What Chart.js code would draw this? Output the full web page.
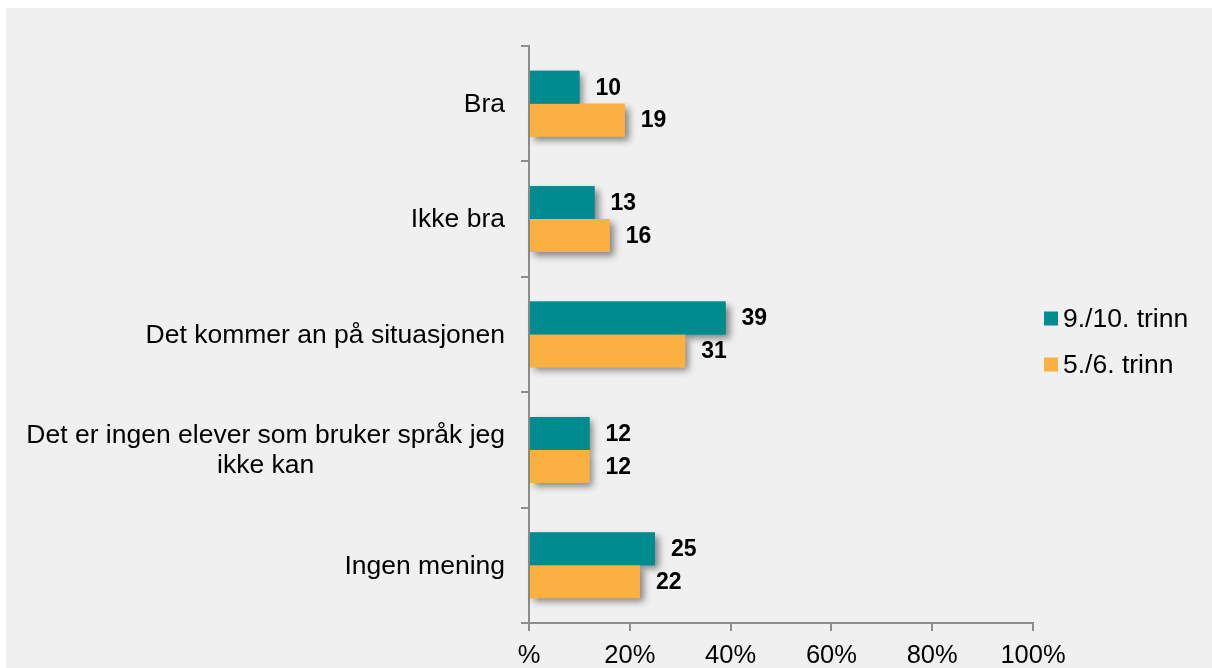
<!DOCTYPE html>
<html>
<head>
    <meta charset="utf-8">
    <title>Språk</title>
    <script src="https://cdn.jsdelivr.net/npm/chart.js@4.4.3/dist/chart.umd.min.js"></script>
    <style>
        html, body {
            margin: 0;
            padding: 0;
            background: #ffffff;
            overflow: hidden;
        }

        .panel {
            position: absolute;
            left: 6px;
            top: 8px;
            width: 1206px;
            height: 660px;
            background: #f0f0f0;
        }

        .wrap {
            position: absolute;
            left: 0;
            top: 0;
            width: 1212px;
            height: 668px;
        }
    </style>
</head>

<body>
    <div class="panel"></div>
    <div class="wrap">
        <canvas id="chart" width="1212" height="668"></canvas>
    </div>

    <script>
        const categories = [
            'Bra',
            'Ikke bra',
            'Det kommer an på situasjonen',
            ['Det er ingen elever som bruker språk jeg', 'ikke kan'],
            'Ingen mening'
        ]
        const seriesNames = ['9./10. trinn', '5./6. trinn']
        const trinn910 = [10, 13, 39, 12, 25]
        const trinn56 = [19, 16, 31, 12, 22]
        const xTicks = [0, 20, 40, 60, 80, 100]
        const xTickLabels = ['%', '20%', '40%', '60%', '80%', '100%']

        const teal = '#008b8f'
        const orange = '#fbb042'
        const axisGray = '#8d8d8d'
        const font = 'Arial, "Liberation Sans", sans-serif'

        // soft drop shadow under every bar, drawn before the bars themselves
        const shadowPlugin = {
            id: 'barShadow',
            beforeDatasetsDraw(chart) {
                const ctx = chart.ctx
                ctx.save()
                ctx.shadowColor = 'rgba(0,0,0,0.45)'
                ctx.shadowBlur = 7
                ctx.shadowOffsetX = 4
                ctx.shadowOffsetY = 4
                chart.data.datasets.forEach((ds, i) => {
                    chart.getDatasetMeta(i).data.forEach(bar => {
                        const left = Math.min(bar.base, bar.x)
                        ctx.fillStyle = ds.backgroundColor
                        ctx.fillRect(left, bar.y - bar.height / 2, Math.abs(bar.x - bar.base), bar.height)
                    })
                })
                ctx.restore()
            }
        }

        // values at bar ends, category labels (excel style wrapping) and legend
        const labelPlugin = {
            id: 'labels',
            afterDraw(chart) {
                const ctx = chart.ctx
                const area = chart.chartArea
                const yScale = chart.scales.y
                ctx.save()

                ctx.font = 'bold 23px ' + font
                ctx.fillStyle = '#000'
                ctx.textAlign = 'left'
                ctx.textBaseline = 'middle'
                chart.data.datasets.forEach((ds, i) => {
                    chart.getDatasetMeta(i).data.forEach((bar, j) => {
                        ctx.fillText(String(ds.data[j]), bar.x + 16, bar.y + 1)
                    })
                })

                ctx.font = '26.5px ' + font
                ctx.textAlign = 'center'
                const right = area.left - 24
                categories.forEach((cat, i) => {
                    const lines = Array.isArray(cat) ? cat : [cat]
                    const w = Math.max(...lines.map(l => ctx.measureText(l).width))
                    const cy = yScale.getPixelForTick(i)
                    const lh = 30
                    lines.forEach((l, k) => {
                        ctx.fillText(l, right - w / 2, cy + (k - (lines.length - 1) / 2) * lh + 1)
                    })
                })

                ctx.textAlign = 'left'
                const lx = area.right + 11
                const ly = (area.top + area.bottom) / 2 - 16
                chart.data.datasets.forEach((ds, i) => {
                    const y = ly + i * 46
                    ctx.fillStyle = ds.backgroundColor
                    ctx.fillRect(lx, y - 7, 14, 14)
                    ctx.fillStyle = '#000'
                    ctx.fillText(ds.label, lx + 19, y + 1)
                })
                ctx.restore()
            }
        }

        new Chart(document.getElementById('chart'), {
            type: 'bar',
            data: {
                labels: categories,
                datasets: [
                    {
                        label: seriesNames[0],
                        data: trinn910,
                        backgroundColor: teal,
                        categoryPercentage: 0.57,
                        barPercentage: 1.0
                    },
                    {
                        label: seriesNames[1],
                        data: trinn56,
                        backgroundColor: orange,
                        categoryPercentage: 0.57,
                        barPercentage: 1.0
                    }
                ]
            },
            options: {
                indexAxis: 'y',
                responsive: false,
                animation: false,
                layout: {
                    padding: { top: 46, right: 179, left: 0, bottom: 0 }
                },
                plugins: {
                    legend: { display: false },
                    tooltip: { enabled: false }
                },
                scales: {
                    y: {
                        type: 'category',
                        offset: true,
                        ticks: { display: false },
                        grid: {
                            offset: true,
                            drawOnChartArea: false,
                            tickLength: 8,
                            color: axisGray,
                            lineWidth: 2
                        },
                        border: { color: axisGray, width: 2 },
                        afterFit(scale) {
                            scale.width = 529
                        }
                    },
                    x: {
                        min: 0,
                        max: 100,
                        afterBuildTicks(scale) {
                            scale.ticks = xTicks.map(v => ({ value: v }))
                        },
                        ticks: {
                            autoSkip: false,
                            maxRotation: 0,
                            padding: 10,
                            color: '#000',
                            font: { family: font, size: 25.5 },
                            callback: (v) => xTickLabels[xTicks.indexOf(v)]
                        },
                        grid: {
                            drawOnChartArea: false,
                            tickLength: 8,
                            color: axisGray,
                            lineWidth: 2
                        },
                        border: { color: axisGray, width: 2 },
                        afterFit(scale) {
                            scale.height = 45
                        }
                    }
                }
            },
            plugins: [shadowPlugin, labelPlugin]
        })
    </script>
</body>
</html>
